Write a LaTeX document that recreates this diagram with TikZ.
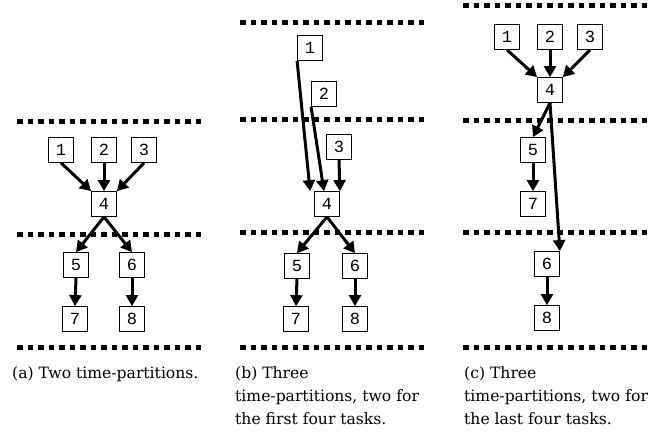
\documentclass[tikz,border=0pt]{standalone}
\usepackage{fontspec}
\setmainfont{DejaVu Serif}
\newfontfamily\taskfont{Liberation Mono}
\usetikzlibrary{arrows.meta}

\begin{document}
\begin{tikzpicture}[x=1pt,y=-1pt,
    task/.style={draw,line width=.8pt,minimum size=25pt,inner sep=0pt,
      font=\taskfont\fontsize{17}{17}\selectfont},
    dep/.style={line width=3pt,-{Triangle[length=11pt,width=12pt]}},
    slot/.style={line width=5pt,dash pattern=on 5.5pt off 5pt},
    caption/.style={anchor=base west,align=left,inner sep=0pt,
      font=\fontsize{15.6}{23}\selectfont}]
  \useasboundingbox (0,0) rectangle (649,432);

  % (a) two partitions
  \begin{scope}[xshift=17pt]
    \foreach \y in {121,234,347}
      \draw[slot] (0,\y) -- (186,\y);
    \node[task] (a1) at (44,150) {1};
    \node[task] (a2) at (87,150) {2};
    \node[task] (a3) at (127,150) {3};
    \node[task] (a4) at (87,204) {4};
    \node[task] (a5) at (59,265) {5};
    \node[task] (a6) at (115,265) {6};
    \node[task] (a7) at (58,319) {7};
    \node[task] (a8) at (115,319) {8};
    \draw[dep] (a1.south) -- (a4.north west);
    \draw[dep] (a2.south) -- (a4.north);
    \draw[dep] (a3.south) -- (a4.north east);
    \draw[dep] (a4.south) -- (a5.north);
    \draw[dep] (a4.south) -- (a6.north);
    \draw[dep] (a5.south) -- (a7.north);
    \draw[dep] (a6.south) -- (a8.north);
    % base of a caption node is its last line
    \node[caption] (capa) at (-5,378) {(a) Two time-partitions.};
  \end{scope}

  % (b) three partitions, first four tasks split
  \begin{scope}[xshift=240pt]
    \foreach \y in {22,119,232,347}
      \draw[slot] (0,\y) -- (186,\y);
    \node[task] (b1) at (70,48) {1};
    \node[task] (b2) at (84,94) {2};
    \node[task] (b3) at (99,147) {3};
    \node[task] (b4) at (87,204) {4};
    \node[task] (b5) at (57,266) {5};
    \node[task] (b6) at (115,266) {6};
    \node[task] (b7) at (56,319) {7};
    \node[task] (b8) at (115,319) {8};
    \draw[dep] (b1.south west) -- ([xshift=-4pt]b4.north west);
    \draw[dep] (b2.south west) -- ([xshift=-3pt]b4.north);
    \draw[dep] (b3.south) -- (b4.north east);
    \draw[dep] (b4.south) -- (b5.north);
    \draw[dep] (b4.south) -- (b6.north);
    \draw[dep] (b5.south) -- (b7.north);
    \draw[dep] (b6.south) -- (b8.north);
    \node[caption] (capb) at (-5,424)
      {(b) Three\\time-partitions, two for\\the first four tasks.};
  \end{scope}

  % (c) three partitions, last four tasks split
  \begin{scope}[xshift=463pt]
    \foreach \y in {5,120,232,347}
      \draw[slot] (0,\y) -- (186,\y);
    \node[task] (c1) at (44,37) {1};
    \node[task] (c2) at (87,37) {2};
    \node[task] (c3) at (127,37) {3};
    \node[task] (c4) at (87,90) {4};
    \node[task] (c5) at (70,150) {5};
    \node[task] (c7) at (70,204) {7};
    \node[task] (c6) at (84,264) {6};
    \node[task] (c8) at (84,318) {8};
    \draw[dep] (c1.south) -- (c4.north west);
    \draw[dep] (c2.south) -- (c4.north);
    \draw[dep] (c3.south) -- (c4.north east);
    \draw[dep] (c4.south) -- (c5.north);
    \draw[dep] (c4.south) -- (c6.north east);
    \draw[dep] (c5.south) -- (c7.north);
    \draw[dep] (c6.south) -- (c8.north);
    \node[caption] (capc) at (1,424)
      {(c) Three\\time-partitions, two for\\the last four tasks.};
  \end{scope}
\end{tikzpicture}
\end{document}
